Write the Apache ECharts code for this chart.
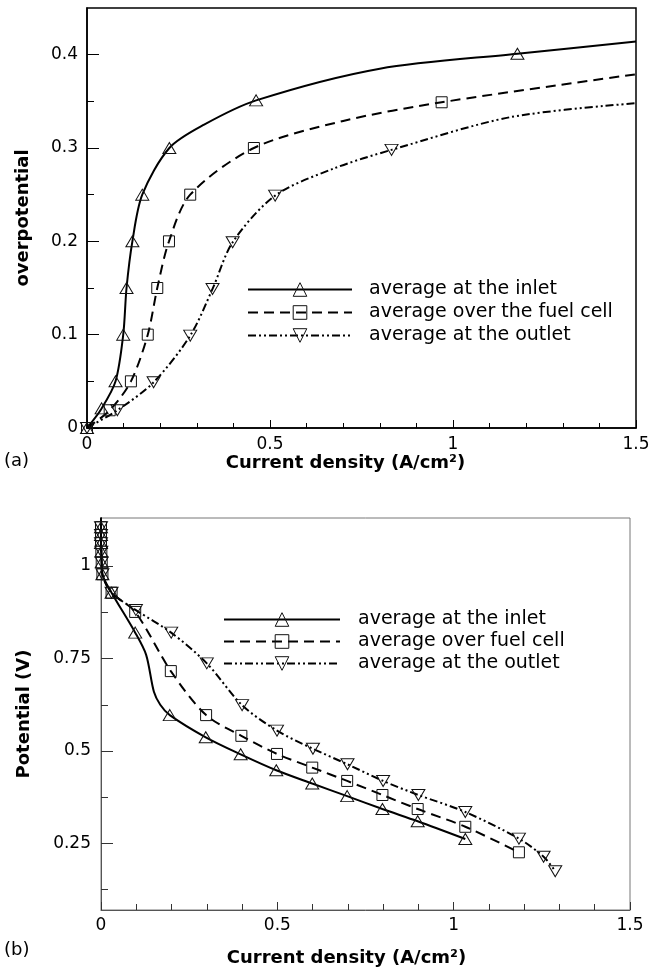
<!DOCTYPE html>
<html>
<head>
<meta charset="utf-8">
<script src="https://cdn.jsdelivr.net/npm/echarts@6/dist/echarts.min.js"></script>
<style>html,body{margin:0;padding:0;background:#fff}#c{width:668px;height:970px}</style>
</head>
<body>
<div id="c"></div>
<script>
// ---------- Panel (a): overpotential vs current density ----------
const aNames = ['average at the inlet', 'average over the fuel cell', 'average at the outlet'];
// marked points
const aInletX  = [0, 0.040, 0.078, 0.099, 0.108, 0.124, 0.151, 0.225, 0.462, 1.176];
const aInletY  = [0, 0.021, 0.050, 0.100, 0.150, 0.200, 0.250, 0.300, 0.351, 0.401];
const aFuelX   = [0, 0.062, 0.120, 0.166, 0.192, 0.224, 0.282, 0.456, 0.969];
const aFuelY   = [0, 0.019, 0.050, 0.100, 0.150, 0.200, 0.250, 0.300, 0.349];
const aOutX    = [0, 0.083, 0.182, 0.282, 0.343, 0.398, 0.514, 0.832];
const aOutY    = [0, 0.019, 0.049, 0.099, 0.149, 0.199, 0.249, 0.298];
// extra curve points (no marker)
const aInletCX = [0.320, 0.800, 1.500];
const aInletCY = [0.325, 0.385, 0.414];
const aFuelCX  = [0.700, 1.500];
const aFuelCY  = [0.329, 0.379];
const aOutCX   = [0.674, 1.156, 1.500];
const aOutCY   = [0.278, 0.333, 0.348];
const aXTicks = [0, 0.5, 1, 1.5];
const aYTicks = [0, 0.1, 0.2, 0.3, 0.4];
const aYMinorTicks = [0.05, 0.15, 0.25, 0.35];

// ---------- Panel (b): potential vs current density ----------
const bNames = ['average at the inlet', 'average over fuel cell', 'average at the outlet'];
const bInletX = [0, 0, 0, 0, 0.001, 0.002, 0.004, 0.030, 0.097, 0.195, 0.297, 0.396, 0.497, 0.599, 0.698, 0.798, 0.898, 1.033];
const bInletY = [1.131, 1.105, 1.084, 1.062, 1.039, 1.010, 0.978, 0.928, 0.820, 0.597, 0.537, 0.491, 0.448, 0.412, 0.378, 0.343, 0.310, 0.262];
const bFuelX  = [0, 0, 0, 0, 0.001, 0.002, 0.004, 0.030, 0.097, 0.198, 0.298, 0.398, 0.499, 0.599, 0.698, 0.798, 0.898, 1.033, 1.185];
const bFuelY  = [1.131, 1.105, 1.084, 1.062, 1.039, 1.010, 0.978, 0.928, 0.876, 0.716, 0.597, 0.541, 0.492, 0.455, 0.419, 0.381, 0.343, 0.295, 0.226];
const bOutX   = [0, 0, 0, 0, 0.001, 0.002, 0.004, 0.030, 0.099, 0.199, 0.300, 0.400, 0.499, 0.601, 0.699, 0.800, 0.900, 1.033, 1.185, 1.255, 1.288];
const bOutY   = [1.131, 1.105, 1.084, 1.062, 1.039, 1.010, 0.978, 0.928, 0.881, 0.820, 0.737, 0.624, 0.555, 0.506, 0.464, 0.419, 0.381, 0.335, 0.263, 0.214, 0.175];
const bInletCX = [0.128, 0.150, 0.168];
const bInletCY = [0.760, 0.660, 0.625];
const bFuelCX = [], bFuelCY = [];
const bOutCX = [], bOutCY = [];
const bXTicks = [0, 0.5, 1, 1.5];
const bYTicks = [0.25, 0.5, 0.75, 1];
const bYMinorTicks = [0.125, 0.375, 0.625, 0.875];

const FONT = 'DejaVu Sans';

function build(mx, my, cx, cy) {
  const pts = [];
  mx.forEach((x, i) => pts.push({ value: [x, my[i]] }));
  cx.forEach((x, i) => pts.push({ value: [x, cy[i]], symbol: 'none' }));
  pts.sort((a, b) => (a.value[0] - b.value[0]) || (b.value[1] - a.value[1]));
  return pts;
}

const styles = [
  { symbol: 'triangle', symbolSize: [13, 11], rotate: 0, line: 'solid' },
  { symbol: 'rect', symbolSize: 11, rotate: 0, line: [10, 6] },
  { symbol: 'triangle', symbolSize: [13, 11], rotate: 180, line: [8, 3, 2, 3, 2, 3] }
];

function mkSeries(name, data, st, xi, yi) {
  return {
    type: 'line', name: name, data: data, xAxisIndex: xi, yAxisIndex: yi,
    symbol: st.symbol, symbolSize: st.symbolSize, symbolRotate: st.rotate,
    showAllSymbol: true,
    itemStyle: { color: 'rgba(0,0,0,0)', borderColor: '#111', borderWidth: 1 },
    lineStyle: { color: '#000', width: 2, type: st.line },
    smooth: 0.3,
    animation: false, silent: true
  };
}

const aData = [build(aInletX, aInletY, aInletCX, aInletCY), build(aFuelX, aFuelY, aFuelCX, aFuelCY), build(aOutX, aOutY, aOutCX, aOutCY)];
const bData = [build(bInletX, bInletY, bInletCX, bInletCY), build(bFuelX, bFuelY, bFuelCX, bFuelCY), build(bOutX, bOutY, bOutCX, bOutCY)];

const series = [];
aData.forEach((d, i) => series.push(mkSeries(aNames[i], d, styles[i], 0, 0)));
bData.forEach((d, i) => series.push(mkSeries(bNames[i], d, styles[i], 1, 1)));

const labelStyle = { fontFamily: FONT, fontSize: 17, color: '#000' };
const nameStyle = { fontFamily: FONT, fontSize: 18, fontWeight: 'bold', color: '#000' };
const fmt = v => String(+(+v).toFixed(3));
const legendItemStyle = { color: 'rgba(0,0,0,0)', borderColor: '#111', borderWidth: 1 };

const option = {
  animation: false,
  backgroundColor: '#fff',
  grid: [
    { left: 87, top: 8, width: 549, height: 420, show: true, borderColor: '#000', borderWidth: 1.5, backgroundColor: 'transparent' },
    { left: 101, top: 518, width: 529, height: 392, show: true, borderColor: '#777', borderWidth: 1, backgroundColor: 'transparent' }
  ],
  xAxis: [
    { type: 'value', gridIndex: 0, min: 0, max: 1.5, interval: 0.5,
      axisLine: { show: true, lineStyle: { color: '#000', width: 1.5 } },
      axisTick: { show: true, inside: true, length: 8, lineStyle: { color: '#000' } },
      minorTick: { show: true, splitNumber: 5, length: 5, lineStyle: { color: '#000' } },
      splitLine: { show: false },
      axisLabel: Object.assign({ margin: 8, formatter: fmt }, labelStyle),
      name: 'Current density (A/cm²)', nameLocation: 'middle', nameGap: 26,
      nameTextStyle: Object.assign({ padding: [0, 32, 0, 0] }, nameStyle) },
    { type: 'value', gridIndex: 1, min: 0, max: 1.5, interval: 0.5,
      axisLine: { show: true, lineStyle: { color: '#555', width: 1 } },
      axisTick: { show: true, inside: true, length: 8, lineStyle: { color: '#333' } },
      minorTick: { show: true, splitNumber: 5, length: 6, lineStyle: { color: '#333' } },
      splitLine: { show: false },
      axisLabel: Object.assign({ margin: 7, formatter: fmt }, labelStyle),
      name: 'Current density (A/cm²)', nameLocation: 'middle', nameGap: 39,
      nameTextStyle: Object.assign({ padding: [0, 38, 0, 0] }, nameStyle) }
  ],
  yAxis: [
    { type: 'value', gridIndex: 0, min: 0, max: 0.45, position: 'left',
      axisLine: { show: true, lineStyle: { color: '#000', width: 1.5 } },
      axisTick: { show: true, inside: true, length: 12, customValues: aYTicks, lineStyle: { color: '#000' } },
      splitLine: { show: false },
      axisLabel: Object.assign({ margin: 9, formatter: fmt, customValues: aYTicks }, labelStyle),
      name: 'overpotential', nameLocation: 'middle', nameGap: 55, nameTextStyle: nameStyle },
    { type: 'value', gridIndex: 1, min: 0.07, max: 1.13, position: 'left',
      axisLine: { show: true, lineStyle: { color: '#555', width: 1 } },
      axisTick: { show: true, inside: true, length: 12, customValues: bYTicks, lineStyle: { color: '#333' } },
      splitLine: { show: false },
      axisLabel: Object.assign({ margin: 10, formatter: fmt, customValues: bYTicks }, labelStyle),
      name: 'Potential (V)', nameLocation: 'middle', nameGap: 68, nameTextStyle: nameStyle },
    { type: 'value', gridIndex: 1, min: 0.07, max: 1.13, position: 'left', offset: 0,
      axisLine: { show: false },
      axisTick: { show: true, inside: true, length: 7, customValues: bYMinorTicks, lineStyle: { color: '#333' } },
      splitLine: { show: false },
      axisLabel: { show: false } },
    { type: 'value', gridIndex: 0, min: 0, max: 0.45, position: 'left', offset: 0,
      axisLine: { show: false },
      axisTick: { show: true, inside: true, length: 7, customValues: aYMinorTicks, lineStyle: { color: '#000' } },
      splitLine: { show: false },
      axisLabel: { show: false } }
  ],
  legend: [
    { data: aNames, orient: 'vertical', left: 242, top: 275, itemWidth: 104, itemHeight: 17, itemGap: 4,
      selectedMode: false, itemStyle: legendItemStyle,
      textStyle: { fontFamily: FONT, fontSize: 19, color: '#000', padding: [0, 0, 0, 12] } },
    { data: bNames, orient: 'vertical', left: 218, top: 605, itemWidth: 116, itemHeight: 17, itemGap: 3,
      selectedMode: false, itemStyle: legendItemStyle,
      textStyle: { fontFamily: FONT, fontSize: 19, color: '#000', padding: [0, 0, 0, 13] } }
  ],
  graphic: [
    { type: 'text', left: 4, top: 452, style: { text: '(a)', fontFamily: FONT, fontSize: 18, fill: '#000' } },
    { type: 'text', left: 4, top: 941, style: { text: '(b)', fontFamily: FONT, fontSize: 18, fill: '#000' } }
  ],
  series: series
};

const chart = echarts.init(document.getElementById('c'), null, { renderer: 'canvas' });
chart.setOption(option);
</script>
</body>
</html>
